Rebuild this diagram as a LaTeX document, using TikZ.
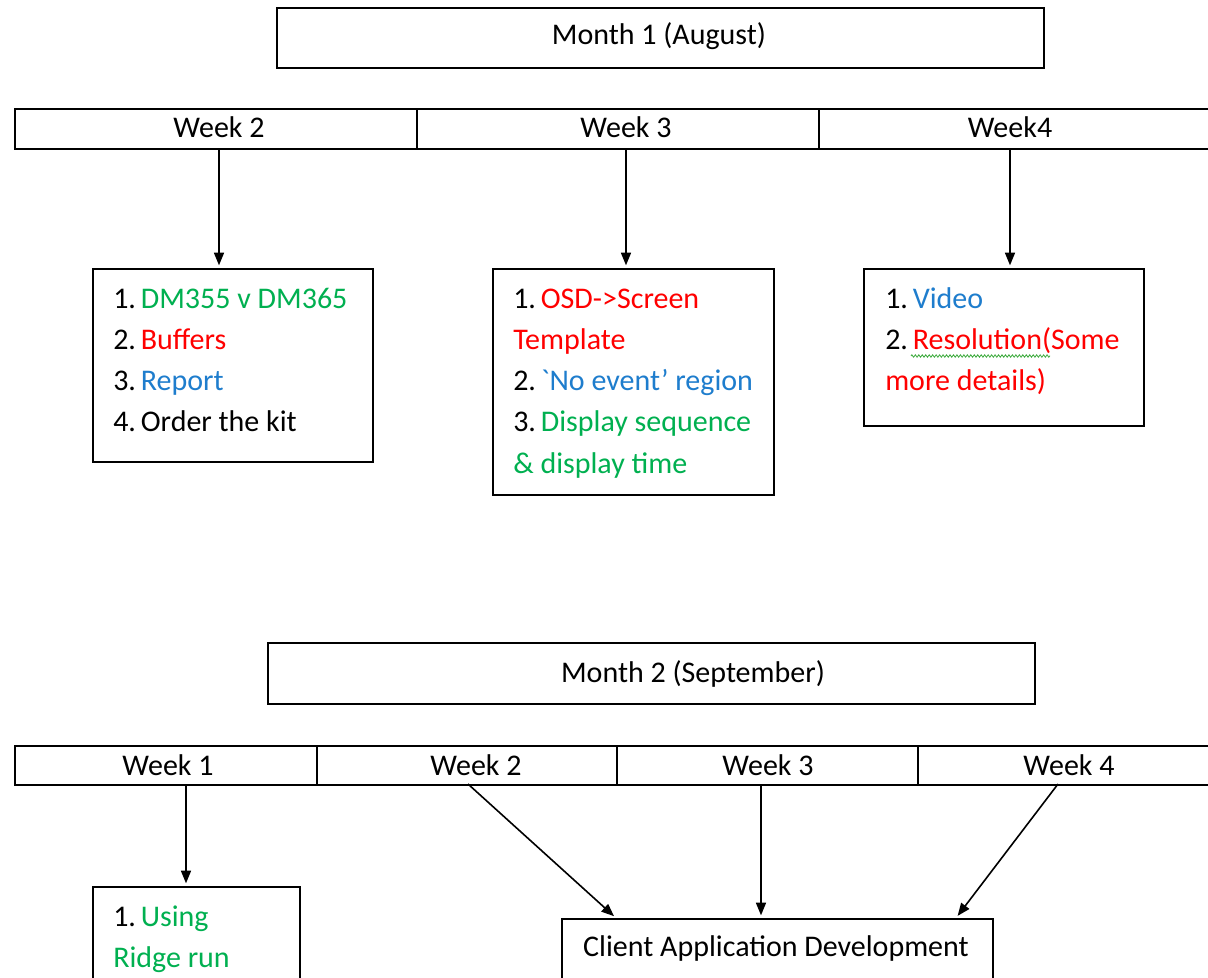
\documentclass[tikz,border=0pt]{standalone}
\usepackage{fontspec}
\setmainfont{Carlito}
\usetikzlibrary{arrows.meta,decorations.pathmorphing}
\definecolor{tgreen}{RGB}{0,176,80}
\definecolor{tred}{RGB}{255,0,0}
\definecolor{tblue}{RGB}{30,125,205}
\definecolor{squig}{RGB}{60,170,60}
\newcommand{\numgap}{\hspace{0.16em}}
\begin{document}
\begin{tikzpicture}[x=0.75pt,y=-0.75pt,
  frame/.style={draw, line width=1.3pt, inner sep=0pt, anchor=north west},
  sz/.style 2 args={minimum width=#1*0.75pt, minimum height=#2*0.75pt},
  txt/.style={inner sep=0pt, anchor=base west, font=\fontsize{22.5}{28}\selectfont},
  ctxt/.style={inner sep=0pt, anchor=base, font=\fontsize{22.5}{28}\selectfont},
  arr/.style={line width=1.2pt, shorten >=2pt, -{Triangle[length=9.5pt,width=7.5pt]}},
]
\clip (0,0) rectangle (1208,978);
\fill[white] (0,0) rectangle (1208,978);

% ---------------- Month 1 ----------------
\node[frame, sz={767}{60}] (m1) at (276,7) {};
\node[ctxt] (m1t) at (659,45) {Month 1 (August)};

\node[frame, sz={402}{40}] (a2) at (14,108) {};
\node[frame, sz={402}{40}] (a3) at (416,108) {};
\node[frame, sz={402}{40}] (a4) at (818,108) {};
\node[ctxt] (la2) at (219,137) {Week 2};
\node[ctxt] (la3) at (626,137) {Week 3};
\node[ctxt] (la4) at (1010,137) {Week4};

\node[frame, sz={280}{193}] (bA) at (92,268) {};
\node[frame, sz={281}{226}] (bB) at (492,268) {};
\node[frame, sz={280}{157}] (bC) at (863,268) {};

\draw[arr] (a2.south -| la2) -- (bA.north -| la2);
\draw[arr] (a3.south -| la3) -- (bB.north -| la3);
\draw[arr] (a4.south -| la4) -- (bC.north -| la4);

% week 2 items
\node[txt] (tA1) at (113,308) {1.\numgap\textcolor{tgreen}{DM355 v DM365}};
\node[txt] (tA2) at (113,349.5) {2.\numgap\textcolor{tred}{Buffers}};
\node[txt] (tA3) at (113,390.5) {3.\numgap\textcolor{tblue}{Report}};
\node[txt] (tA4) at (113,431.5) {4.\numgap Order the kit};

% week 3 items
\node[txt] (tB1) at (513,308) {1.\numgap\textcolor{tred}{OSD->Screen}};
\node[txt] (tB2) at (513,349.5) {\textcolor{tred}{Template}};
\node[txt] (tB3) at (513,390.5) {2.\numgap\textcolor{tblue}{\textasciigrave No event’ region}};
\node[txt] (tB4) at (513,431.5) {3.\numgap\textcolor{tgreen}{Display sequence}};
\node[txt] (tB5) at (513,473) {\textcolor{tgreen}{\& display time}};

% week 4 items
\node[txt] (tC1) at (885,308) {1.\numgap\textcolor{tblue}{Video}};
\node[txt] (tC2) at (885,349.5) {2.\numgap\textcolor{tred}{Resolution(Some}};
\node[txt] (tC3) at (885,390.5) {\textcolor{tred}{more details)}};
\draw[squig, line width=0.6pt, decorate,
      decoration={zigzag, segment length=2.6pt, amplitude=0.9pt}]
  (911,356) -- (1050,356);

% ---------------- Month 2 ----------------
\node[frame, sz={767}{61}] (m2) at (267,642) {};
\node[ctxt] (m2t) at (693,682) {Month 2 (September)};

\node[frame, sz={302}{39}] (c1) at (14,745) {};
\node[frame, sz={300}{39}] (c2) at (316,745) {};
\node[frame, sz={301}{39}] (c3) at (616,745) {};
\node[frame, sz={303}{39}] (c4) at (917,745) {};
\node[ctxt] (lc1) at (168,775.5) {Week 1};
\node[ctxt] (lc2) at (476,775.5) {Week 2};
\node[ctxt] (lc3) at (768,775.5) {Week 3};
\node[ctxt] (lc4) at (1069,775.5) {Week 4};

\node[frame, sz={207}{120}] (bD) at (92,886) {};
\node[frame, sz={431}{80}] (bE) at (561,918) {};

\node[txt] (tD1) at (113,926) {1.\numgap\textcolor{tgreen}{Using}};
\node[txt] (tD2) at (113,967) {\textcolor{tgreen}{Ridge run}};
\node[ctxt] (tE) at (776,956) {Client Application Development};

\coordinate (s1) at (186,784);
\coordinate (s2) at (468,784);
\coordinate (s3) at (761,784);
\coordinate (s4) at (1058,784);
\coordinate (e2) at (616,918);
\coordinate (e4) at (956,918);

\draw[arr] (s1) -- (bD.north -| s1);
\draw[arr] (s2) -- (e2);
\draw[arr] (s3) -- (bE.north -| s3);
\draw[arr] (s4) -- (e4);
\end{tikzpicture}
\end{document}
